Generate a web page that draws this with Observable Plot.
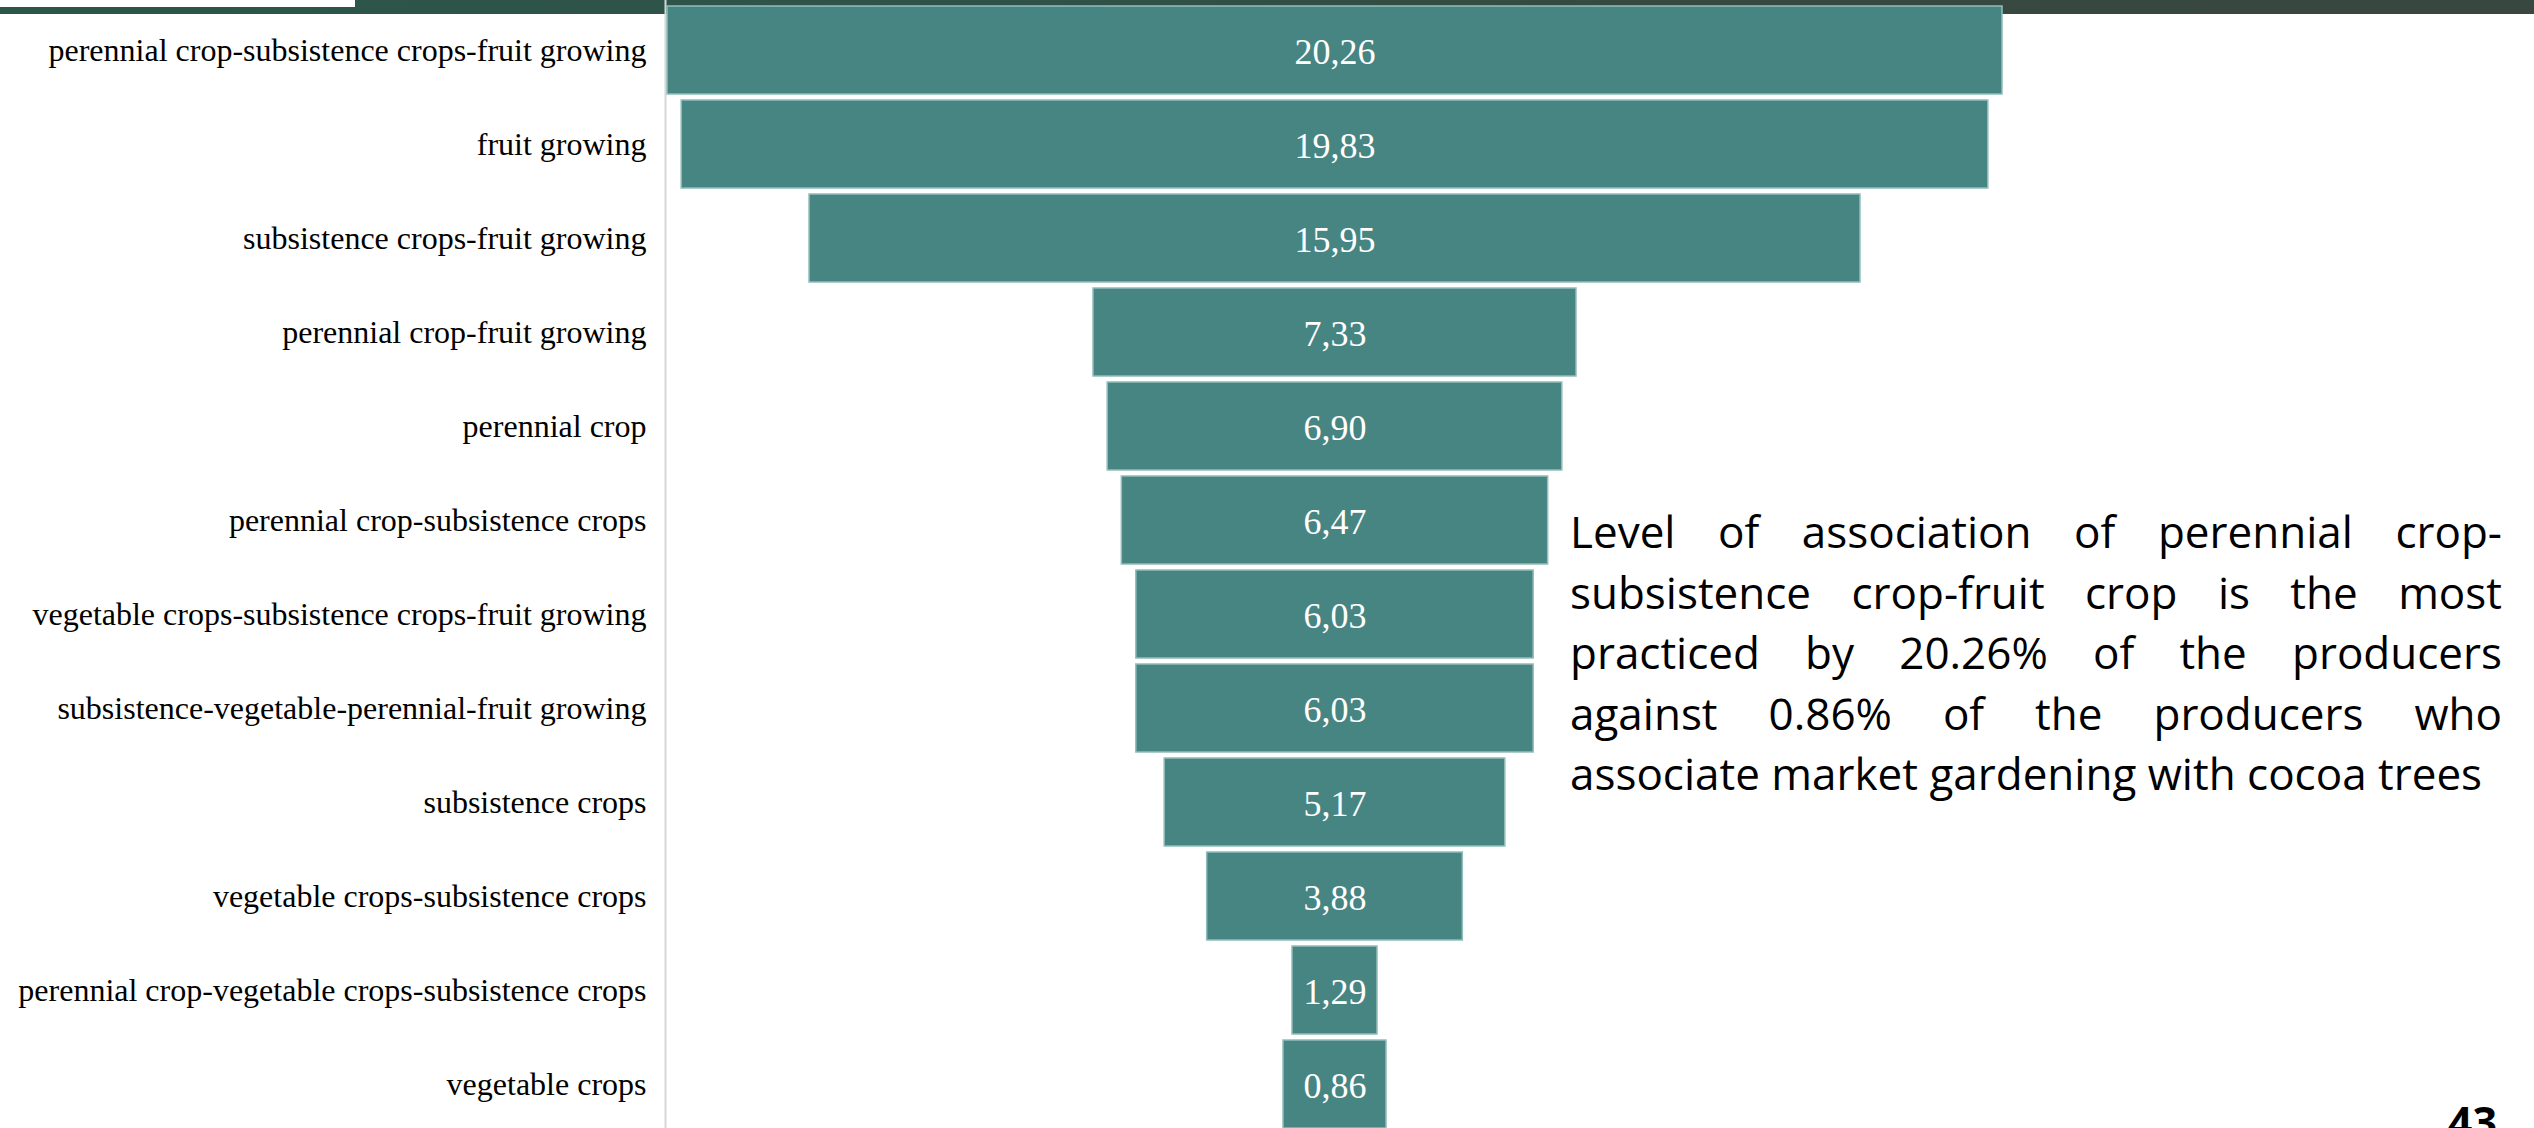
<!DOCTYPE html>
<html>
<head>
<meta charset="utf-8">
<script src="https://cdn.jsdelivr.net/npm/d3@7"></script>
<script src="https://cdn.jsdelivr.net/npm/@observablehq/plot@0.6"></script>
<style>
html, body { margin: 0; padding: 0; background: #fff; }
#page { position: relative; width: 2534px; height: 1128px; overflow: hidden; background: #fff; }
#band { position: absolute; left: 0; top: 0; width: 2534px; height: 14px;
  background: linear-gradient(90deg, #2c5648 0%, #2f5248 40%, #36493f 66%, #384740 100%); }
#tab { position: absolute; left: 0; top: 0; width: 355px; height: 7px; background: #fff; }
#chart { position: absolute; left: 0; top: 0; }
#note { position: absolute; left: 1570px; top: 501px; width: 932px;
  font-family: "Open Sans", sans-serif; font-size: 44px; line-height: 60.5px; color: #000; }
#note .j { text-align: justify; text-align-last: justify; }
#note .l { text-align: left; }
#pg { position: absolute; right: 37px; top: 1100px; font-family: "Open Sans", sans-serif;
  font-weight: 700; font-size: 43px; line-height: 43px; color: #000; }
</style>
</head>
<body>
<div id="page">
  <div id="band"></div>
  <div id="tab"></div>
  <div id="chart"></div>
  <div id="note">
    <div class="j">Level of association of perennial crop-</div>
    <div class="j">subsistence crop-fruit crop is the most</div>
    <div class="j">practiced by 20.26% of the producers</div>
    <div class="j">against 0.86% of the producers who</div>
    <div class="l">associate market gardening with cocoa trees</div>
  </div>
  <div id="pg">43</div>
</div>
<script>
const categories = [
  "perennial crop-subsistence crops-fruit growing",
  "fruit growing",
  "subsistence crops-fruit growing",
  "perennial crop-fruit growing",
  "perennial crop",
  "perennial crop-subsistence crops",
  "vegetable crops-subsistence crops-fruit growing",
  "subsistence-vegetable-perennial-fruit growing",
  "subsistence crops",
  "vegetable crops-subsistence crops",
  "perennial crop-vegetable crops-subsistence crops",
  "vegetable crops"
];
const values = [20.26, 19.83, 15.95, 7.33, 6.90, 6.47, 6.03, 6.03, 5.17, 3.88, 1.29, 0.86];
const valueLabels = values.map(v => d3.format(".2f")(v).replace(".", ","));

const half = d3.max(values) / 2;
const xRange = [667, 2002];
const pxPerUnit = (xRange[1] - xRange[0]) / (2 * half);

// label-fitting: a bar too narrow for its label is widened to hold it with padding
const ctx = document.createElement("canvas").getContext("2d");
ctx.font = "36px 'Liberation Serif'";
const data = categories.map((c, i) => {
  const v = values[i];
  const labelW = ctx.measureText(valueLabels[i]).width;
  const barPx = v * pxPerUnit;
  const drawPx = barPx < labelW ? labelW + 40 : barPx;
  return {category: c, value: v, label: valueLabels[i], halfExtent: drawPx / 2 / pxPerUnit};
});

const chart = Plot.plot({
  width: 2534,
  height: 1128,
  marginLeft: 665,
  marginRight: 0,
  marginTop: 0,
  marginBottom: 0,
  style: {background: "transparent", color: "#000", fontFamily: "Liberation Serif"},
  x: {domain: [-half, half], range: xRange, axis: null},
  y: {domain: categories, range: [0, 1133.5], paddingInner: 0.06, paddingOuter: 0.053, axis: null},
  marks: [
    Plot.ruleX([-half], {dx: -2, stroke: "#d6d6d6", strokeWidth: 2}),
    Plot.barX(data, {
      x1: d => -d.halfExtent,
      x2: d => d.halfExtent,
      y: "category",
      fill: "#478583",
      stroke: "#93bdba",
      strokeWidth: 1.5
    }),
    Plot.text(data, {
      x: d => 0,
      y: "category",
      text: "label",
      fill: "#fff",
      fontSize: 36,
      fontFamily: "Liberation Serif",
      dy: 2
    }),
    Plot.axisY({
      anchor: "left",
      tickSize: 0,
      tickPadding: 19,
      fontSize: 32,
      fontFamily: "Liberation Serif",
      label: null,
      ariaLabel: "category-labels"
    })
  ]
});
// slight vertical stretch of the category labels, as in the reference slide
chart.querySelectorAll('g[aria-label="category-labels"] text').forEach(t => {
  const tr = t.getAttribute("transform") || "";
  t.setAttribute("transform", tr + " scale(1,1.12)");
});
document.getElementById("chart").appendChild(chart);
</script>
</body>
</html>
